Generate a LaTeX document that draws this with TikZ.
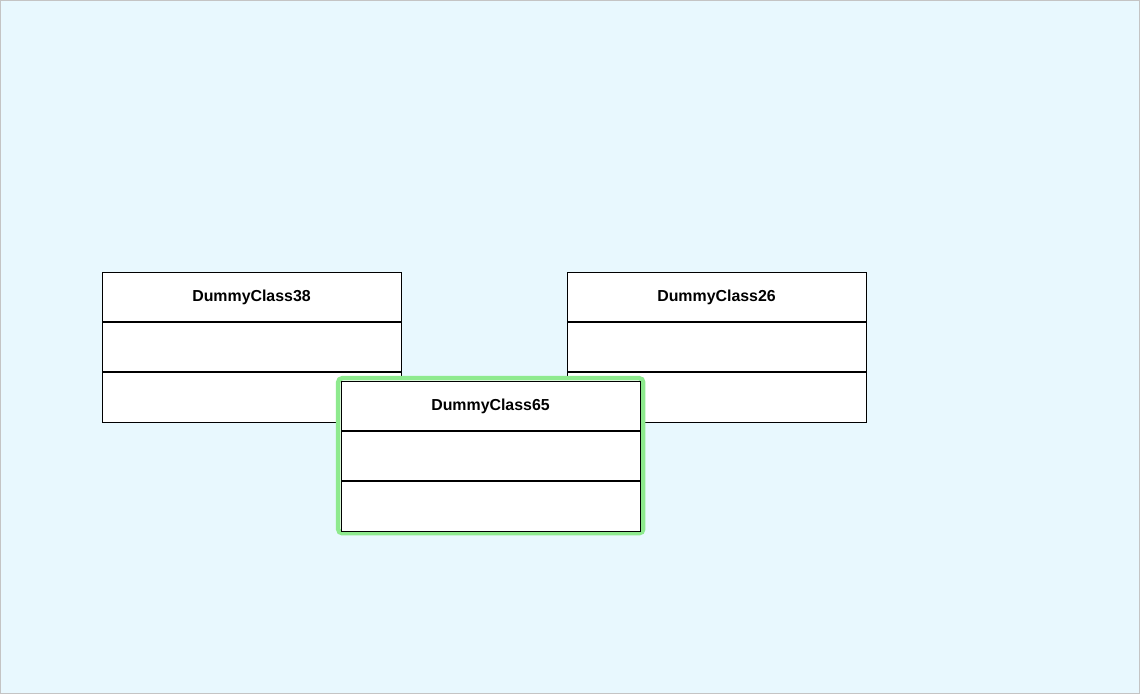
\documentclass[tikz,border=0pt]{standalone}
\usepackage{fontspec}
\setmainfont{Liberation Sans}
\usetikzlibrary{positioning}

\definecolor{canvasblue}{HTML}{E8F8FE}
\definecolor{canvasedge}{HTML}{C4C4C4}
\definecolor{selgreen}{HTML}{8EEA8E}

\tikzset{
    classhead/.style={draw=black, fill=white, line width=0.9pt, outer sep=0pt, inner sep=0pt,
        minimum width=299pt, minimum height=50pt, font=\bfseries\fontsize{15.9}{18}\selectfont},
    classpart/.style={draw=black, fill=white, line width=0.9pt, outer sep=0pt, inner sep=0pt,
        minimum width=299pt, minimum height=50pt},
    divider/.style={line width=1.8pt},
    selframe/.style={draw=selgreen, fill=white, line width=4.5pt, rounded corners=4pt,
        minimum width=305pt, minimum height=155pt}
}

\begin{document}
\begin{tikzpicture}[x=1pt, y=-1pt]
    \useasboundingbox (0,0) rectangle (1140,694);
    \fill[canvasblue] (0,0) rectangle (1140,694);
    \draw[canvasedge, line width=1pt] (0.5,0.5) rectangle (1139.5,693.5);

    % DummyClass38
    \node[classhead] (c38) at (251.5,297) {DummyClass38};
    \node[classpart, below=0pt of c38] (c38attr) {};
    \node[classpart, below=0pt of c38attr] (c38ops) {};
    \draw[divider] (c38.south west) -- (c38.south east);
    \draw[divider] (c38attr.south west) -- (c38attr.south east);

    % DummyClass26
    \node[classhead] (c26) at (716.5,297) {DummyClass26};
    \node[classpart, below=0pt of c26] (c26attr) {};
    \node[classpart, below=0pt of c26attr] (c26ops) {};
    \draw[divider] (c26.south west) -- (c26.south east);
    \draw[divider] (c26attr.south west) -- (c26attr.south east);

    % DummyClass65 (selected)
    \node[selframe] (sel65) at (490.7,455.7) {};
    \node[classhead] (c65) at (490.5,406) {DummyClass65};
    \node[classpart, below=0pt of c65] (c65attr) {};
    \node[classpart, below=0pt of c65attr] (c65ops) {};
    \draw[divider] (c65.south west) -- (c65.south east);
    \draw[divider] (c65attr.south west) -- (c65attr.south east);
\end{tikzpicture}
\end{document}
